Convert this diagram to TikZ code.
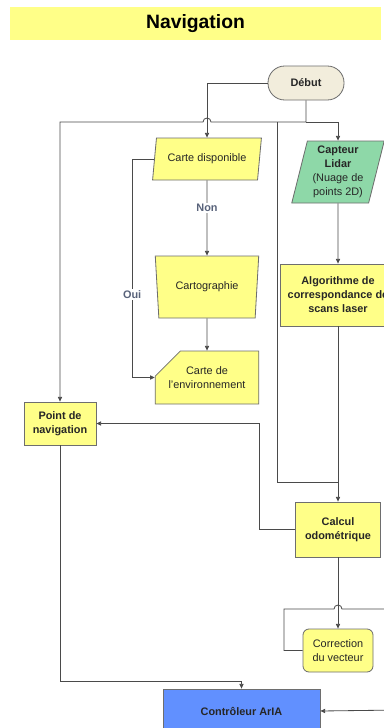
\documentclass[tikz,border=0pt]{standalone}
\usepackage{fontspec}
\setmainfont{Liberation Sans}
\usetikzlibrary{shapes.geometric,shapes.misc,arrows.meta,calc}
\definecolor{jaune}{HTML}{FFFF88}
\definecolor{beige}{HTML}{F2EDDC}
\definecolor{vert}{HTML}{8ED8A8}
\definecolor{bleu}{HTML}{6190FF}
\definecolor{cadre}{HTML}{6E6E6E}
\definecolor{trait}{HTML}{4A4A4A}
\definecolor{etiqcol}{HTML}{58627A}
\begin{document}
\begin{tikzpicture}[x=0.03cm, y=-0.03cm,
    box/.style={draw=cadre, line width=0.7pt, fill=jaune, align=center, inner sep=1pt,
        text=black!85, font=\fontsize{9.3}{12}\selectfont},
    debutbox/.style={box, fill=beige, rounded corners=0.5cm, minimum width=2.28cm, minimum height=1.02cm},
    para/.style={box, trapezium, trapezium left angle=76, trapezium right angle=104,
        trapezium stretches=true},
    flow/.style={draw=trait, line width=0.7pt, -{Triangle[length=4pt,width=3.6pt]}},
    link/.style={draw=trait, line width=0.7pt},
    etiq/.style={fill=white, inner sep=1pt, text=etiqcol, font=\fontsize{9.3}{12}\selectfont\bfseries}]
    % 边界
    \useasboundingbox (0,0) rectangle (383,728);
    \fill[white] (0,0) rectangle (383,728);

    % 标题
    \node[fill=jaune, minimum width=11.13cm, minimum height=0.99cm,
        font=\fontsize{16.5}{18}\selectfont\bfseries] (titre) at (195.5,23.5) {Navigation};

    % 节点
    \node[debutbox] (debut) at (306,83) {\textbf{Début}};
    \node[para, minimum width=3.27cm, minimum height=1.26cm] (carte) at (207,159) {Carte disponible};
    \node[box, trapezium, trapezium left angle=101, trapezium right angle=101, trapezium stretches=true,
        minimum width=3.12cm, minimum height=1.86cm] (carto) at (207,287) {Cartographie};
    \node[box, chamfered rectangle, chamfered rectangle corners=north west,
        chamfered rectangle xsep=0.45cm, chamfered rectangle ysep=0.39cm,
        minimum width=3.03cm, minimum height=1.59cm] (env) at (207,377.5) {Carte de\\l'environnement};
    \node[para, fill=vert, minimum width=2.79cm, minimum height=1.86cm] (lidar) at (338,172)
        {\textbf{Capteur}\\\textbf{Lidar}\\(Nuage de\\points 2D)};
    \node[box, minimum width=3.48cm, minimum height=1.86cm] (algo) at (338,295)
        {\textbf{Algorithme de}\\\textbf{correspondance de}\\\textbf{scans laser}};
    \node[box, minimum width=2.16cm, minimum height=1.29cm] (point) at (60,423.5)
        {\textbf{Point de}\\\textbf{navigation}};
    \node[box, minimum width=2.55cm, minimum height=1.65cm] (calcul) at (338,529.5)
        {\textbf{Calcul}\\\textbf{odométrique}};
    \node[box, rounded corners=0.18cm, minimum width=2.1cm, minimum height=1.29cm] (corr) at (338,650.5)
        {Correction\\du vecteur};
    \node[box, fill=bleu, minimum width=4.71cm, minimum height=1.32cm] (ctrl) at (241.5,711)
        {\textbf{Contrôleur ArIA}};

    % 坐标
    \coordinate (j1) at (306,122);
    \coordinate (j2) at (277,122);
    \coordinate (m1) at (338,482);
    \coordinate (h1) at (284,609);
    \coordinate (e1) at (400,609);
    \coordinate (e2) at (400,710);

    % 连线
    \draw[flow] (debut.west) -| (carte.north);
    \draw[flow] (debut.south) -- (j1) -- ($(j1 -| carte.north)+(4,0)$)
        arc[start angle=0, end angle=-180, radius=4] -| (point.north);
    \draw[flow] (j1) -| (lidar.north);
    \draw[link] (j2) |- (m1);
    \draw[flow] (lidar.south) -- (algo.north);
    \draw[flow] (algo.south) -- (calcul.north);
    \draw[flow] (calcul.west) -- ++(-36,0) |- (point.east);
    \draw[flow] (carte.west) -- ++(-22,0) |- (env.west) node[pos=0.31, etiq] {Oui};
    \draw[flow] (carte.south) -- (carto.north) node[pos=0.37, etiq] {Non};
    \draw[flow] (carto.south) -- (env.north);
    \draw[flow] (point.south) -- ++(0,236) -| (ctrl.north);
    \draw[flow] (calcul.south) -- (corr.north);
    \draw[link] (corr.west) -| (h1) -- ($(h1 -| corr.north)+(-4,0)$)
        arc[start angle=180, end angle=360, radius=4] -- (e1);
    \draw[flow] (e2) -- (ctrl.east);
\end{tikzpicture}
\end{document}
